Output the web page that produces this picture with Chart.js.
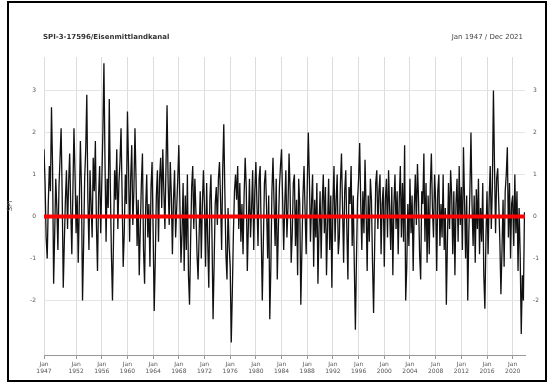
<!DOCTYPE html>
<html>
<head>
<meta charset="utf-8">
<script src="https://cdn.jsdelivr.net/npm/chart.js@4.4.0/dist/chart.umd.min.js"></script>
<style>
    body { margin: 0; background: #fff; font-family: "DejaVu Sans", sans-serif; }
    #frame { position: absolute; left: 7px; top: 1px; width: 536px; height: 377px; border: 2px solid #000; }
    #wrap { position: absolute; left: 0; top: 0; width: 553px; height: 385px; }
    .label { position: absolute; top: 33px; font-size: 7px; white-space: nowrap; }
    #title { left: 43px; font-weight: bold; color: #333; }
    #period { right: 30px; color: #444; }
</style>
</head>
<body>
<div id="frame"></div>
<div id="wrap"><canvas id="spiChart" width="553" height="385"></canvas></div>
<div class="label" id="title">SPI-3-17596/Eisenmittlandkanal</div>
<div class="label" id="period">Jan 1947 / Dec 2021</div>
<script>
// SPI-3 values: 6 per year (every 2 months), Jan 1947 .. Dec 2021
const startYear = 1947;
const spiValues = [
    1.6, 0.8, -0.5, -1.0, 0.3, 1.2,
    0.6, 2.6, 1.2, -1.6, -0.4, 0.9,
    0.2, -0.8, 0.7, 1.4, 2.1, 0.5,
    -1.7, -0.6, 0.4, 1.1, -0.3, 0.8,
    1.5, 0.2, -0.9, 0.6, 2.1, 1.0,
    -0.4, 0.5, -1.1, 0.3, 1.8, 0.7,
    -2.0, -0.7, 0.9, 1.6, 2.9, 0.4,
    -0.8, 1.1, 0.3, -0.5, 1.4, 0.6,
    1.8, -0.2, -1.3, 0.5, 1.2, -0.4,
    0.8, 2.0, 3.65, 1.3, -0.6, 0.9,
    0.2, 2.8, 0.7, -0.9, -2.0, -0.5,
    1.1, 0.4, 1.6, -0.3, 0.8, 1.3,
    2.1, 0.5, -1.2, -0.4, 1.0, 0.3,
    2.5, 1.2, -0.6, 0.9, 1.7, -0.2,
    0.6, 2.1, 0.9, -0.7, 0.4, -1.4,
    -0.3, 0.8, 1.5, -0.8, -1.6, 0.2,
    1.0, -0.5, 0.3, -1.2, 0.7, 1.3,
    -0.4, -2.25, -1.0, 0.5, 1.1, -0.6,
    0.9, 1.4, 0.2, 1.6, 0.6, -0.3,
    1.2, 2.65, 0.8, -0.2, 1.3, 0.5,
    -0.9, 0.4, 1.1, -0.5, 0.2, 0.9,
    1.7, 0.3, -1.1, -0.4, 0.8, -1.3,
    0.5, -0.8, 1.0, -1.4, -2.1, -0.6,
    0.7, 1.2, -0.3, 0.9, 0.1, -0.9,
    -1.5, -0.4, 0.6, -1.0, 0.3, 1.1,
    0.2, -1.2, 0.8, -0.6, -1.7, 0.4,
    1.0, -0.5, -2.45, -1.1, 0.3, 0.7,
    -0.2, 0.9, 1.3, 0.4, -0.8, 1.1,
    2.2, 0.6, -0.9, -1.5, 0.2, -0.7,
    -1.2, -3.0, -1.8, -0.4, 0.6, 1.0,
    0.4, 1.2, -0.3, 0.8, -0.6, 0.3,
    -0.9, 0.5, 1.4, 0.7, -1.3, -0.2,
    0.9, -0.5, 0.2, 1.1, -0.8, 0.6,
    1.3, 0.3, -0.7, 0.9, 1.2, -0.4,
    -2.0, -0.6, 0.8, 1.1, 0.2, -1.0,
    0.5, -2.45, -1.2, 0.6, 1.4, 0.3,
    -0.7, 0.9, -1.5, -0.3, 0.7, 1.2,
    1.6, 0.4, -0.8, 0.3, 1.1, -0.5,
    0.2, 1.5, 0.6, -1.1, -0.4, 0.8,
    1.0, -0.7, 0.4, -1.4, 0.9, 0.3,
    -2.1, -0.8, 0.5, 1.2, 0.1, -0.9,
    0.7, 2.0, 0.9, -0.6, 0.3, 1.0,
    -1.2, 0.4, -0.5, 0.8, -1.6, -0.3,
    0.6, -1.0, 0.3, 1.0, -0.4, 0.7,
    -1.4, -0.2, 0.9, -0.8, 0.5, -1.7,
    0.3, 1.2, -0.6, 0.4, 1.0, -0.9,
    -0.5, 0.8, 1.5, 0.2, -1.1, 0.6,
    1.1, -0.3, -1.5, 0.7, 0.3, 1.2,
    -0.7, 0.5, -1.2, -2.7, -1.0, 0.4,
    0.9, 1.75, 0.3, -0.8, 0.6, -0.4,
    1.35, 0.2, -1.3, 0.5, -0.6, 0.9,
    0.4, -1.1, -2.3, -0.7, 0.8, 1.1,
    -0.3, 0.6, 1.0, -0.9, 0.3, 0.7,
    -1.2, 0.4, 0.9, -0.5, 1.1, 0.2,
    -0.8, 0.7, -1.4, 0.3, 1.0, -0.3,
    0.6, -0.9, 0.4, 1.2, -0.5, 0.8,
    -0.6, 1.7, -2.0, -1.2, 0.3, -0.7,
    0.9, -0.4, 0.5, -1.3, 0.2, 1.0,
    -0.2, 1.25, 0.4, -0.9, -1.5, 0.6,
    0.3, 1.5, -0.6, 0.8, -1.1, 0.5,
    -0.9, 0.7, 1.5, 0.2, -0.5, 1.0,
    0.4, -1.3, 0.6, 1.0, -0.7, 0.3,
    -0.5, 1.0, -0.8, 0.2, -2.1, -0.6,
    0.8, -0.3, 1.1, 0.5, -0.9, 0.6,
    -1.4, 0.3, 0.9, -0.6, 1.2, -0.2,
    0.7, -0.8, 1.65, 0.4, -1.0, 0.5,
    -2.0, -0.4, 0.6, 2.0, 0.3, -0.7,
    0.5, -1.1, 0.65, -0.3, 0.9, -0.9,
    0.2, -0.6, 0.8, -1.4, -2.2, -0.5,
    0.6, -0.9, 0.4, 1.2, -0.3, 0.7,
    3.0, 1.2, -0.4, 0.9, 1.15, 0.3,
    -0.6, -1.85, -0.8, 0.4, -1.2, 0.6,
    1.0, 1.65, -0.5, 0.8, -1.0, 0.3,
    0.5, -0.7, 1.0, -0.4, 0.6, -1.3,
    0.2, -0.9, -2.8, -1.4, -2.0, 0.1
];
const xTickYears = [1947, 1952, 1956, 1960, 1964, 1968, 1972, 1976, 1980, 1984, 1988,
                    1992, 1996, 2000, 2004, 2008, 2012, 2016, 2020];
const yTicks = [-2, -1, 0, 1, 2, 3];
const zeroLine = [0, 0];

const lastMonth = 899;
const spiPoints = spiValues.map((v, i) => ({ x: i * 2, y: v }));
const zeroPoints = [{ x: 0, y: zeroLine[0] }, { x: lastMonth, y: zeroLine[1] }];
const tickMonths = xTickYears.map(y => (y - startYear) * 12);

const tickFont = { family: "DejaVu Sans", size: 6 };

new Chart(document.getElementById('spiChart'), {
    type: 'line',
    data: {
        datasets: [
            { data: zeroPoints, borderColor: '#ff0000', borderWidth: 4, pointRadius: 0, order: 0 },
            { data: spiPoints, borderColor: '#111', borderWidth: 1.3, pointRadius: 0, tension: 0, order: 1 }
        ]
    },
    options: {
        responsive: false,
        animation: false,
        layout: { padding: { left: 6, right: 6, top: 57, bottom: 6 } },
        plugins: { legend: { display: false }, tooltip: { enabled: false } },
        scales: {
            x: {
                type: 'linear', min: 0, max: lastMonth,
                afterBuildTicks: s => { s.ticks = tickMonths.map(v => ({ value: v })); },
                afterFit: s => { s.height = 24; },
                ticks: {
                    autoSkip: false, maxRotation: 0, color: '#555', font: tickFont, padding: 2,
                    callback: v => {
                        const k = tickMonths.indexOf(v);
                        return k < 0 ? '' : ['Jan', String(xTickYears[k])];
                    }
                },
                grid: { color: '#dcdcdc', tickLength: 4, tickColor: '#999' },
                border: { color: '#999' }
            },
            y: {
                position: 'left', min: -3.3, max: 3.8,
                afterBuildTicks: s => { s.ticks = yTicks.map(v => ({ value: v })); },
                afterFit: s => { s.width = 38; },
                ticks: { color: '#555', font: tickFont, padding: 8 },
                grid: { color: '#e4e4e4', drawTicks: false },
                border: { display: false },
                title: { display: true, text: 'SPI', color: '#555', font: { family: "DejaVu Sans", size: 7 }, padding: 0 }
            },
            y2: {
                position: 'right', min: -3.3, max: 3.8,
                afterBuildTicks: s => { s.ticks = yTicks.map(v => ({ value: v })); },
                afterFit: s => { s.width = 22; },
                ticks: { color: '#555', font: tickFont, padding: 8 },
                grid: { display: false, drawTicks: false },
                border: { display: false }
            }
        }
    }
});
</script>
</body>
</html>
